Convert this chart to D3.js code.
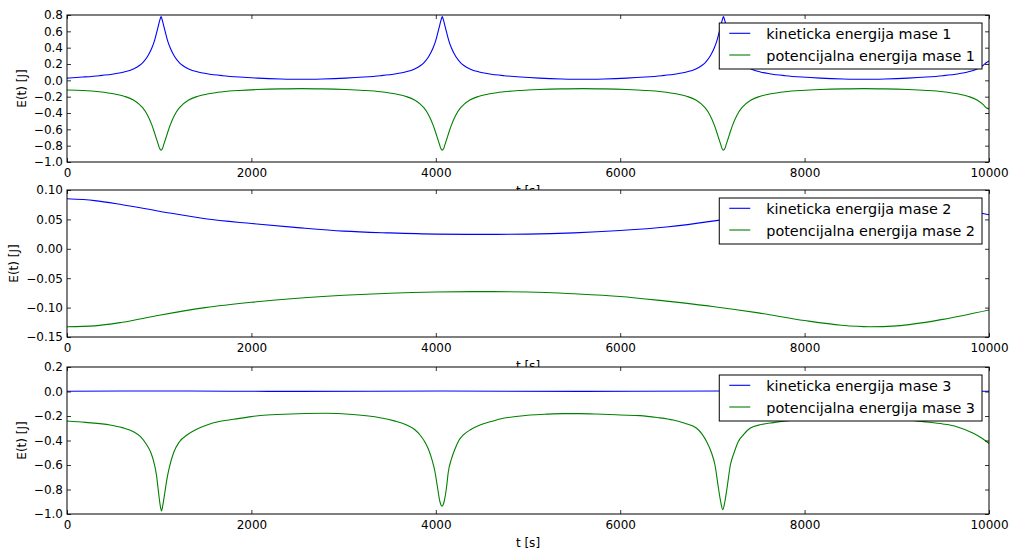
<!DOCTYPE html>
<html>
<head>
<meta charset="utf-8">
<script src="https://cdn.jsdelivr.net/npm/d3@7"></script>
<style>
  body { margin: 0; background: #fff; }
  svg text { font-family: "DejaVu Sans", sans-serif; }
</style>
</head>
<body>
<div id="chart"></div>
<script>
// ---- data ----
const xTicks = [0, 2000, 4000, 6000, 8000, 10000];
const yTicks1 = [-1.0, -0.8, -0.6, -0.4, -0.2, 0.0, 0.2, 0.4, 0.6, 0.8];
const yTicks2 = [-0.15, -0.10, -0.05, 0.00, 0.05, 0.10];
const yTicks3 = [-1.0, -0.8, -0.6, -0.4, -0.2, 0.0, 0.2];

const labels1 = ["kineticka energija mase 1", "potencijalna energija mase 1"];
const labels2 = ["kineticka energija mase 2", "potencijalna energija mase 2"];
const labels3 = ["kineticka energija mase 3", "potencijalna energija mase 3"];

// mass 1
const tMasa1 = [
  0, 170, 350, 520, 620, 720, 785, 820, 875, 920, 950, 970, 990, 1005, 1020,
  1035, 1050, 1070, 1090, 1120, 1165, 1220, 1255, 1320, 1420, 1520, 1690, 1870, 2070, 2320, 2545,
  2770, 3020, 3220, 3400, 3570, 3670, 3770, 3835, 3870, 3925, 3970, 4000, 4020, 4040, 4055, 4070,
  4085, 4100, 4120, 4140, 4170, 4215, 4270, 4305, 4370, 4470, 4570, 4740, 4920, 5120, 5370, 5595,
  5820, 6070, 6270, 6450, 6620, 6720, 6820, 6885, 6920, 6975, 7020, 7050, 7070, 7090, 7105, 7120,
  7135, 7150, 7170, 7190, 7220, 7265, 7320, 7355, 7420, 7520, 7620, 7790, 7970, 8170, 8420, 8645,
  8870, 9120, 9320, 9500, 9670, 9770, 9870, 9935, 9970, 10000
];
const kinMasa1 = [
  0.027, 0.04, 0.057, 0.081, 0.103, 0.14, 0.182, 0.215, 0.295, 0.395, 0.49, 0.575, 0.665, 0.73, 0.78,
  0.73, 0.665, 0.575, 0.49, 0.395, 0.295, 0.215, 0.182, 0.14, 0.103, 0.081, 0.057, 0.04, 0.027, 0.017, 0.013,
  0.017, 0.027, 0.04, 0.057, 0.081, 0.103, 0.14, 0.182, 0.215, 0.295, 0.395, 0.49, 0.575, 0.665, 0.73, 0.78,
  0.73, 0.665, 0.575, 0.49, 0.395, 0.295, 0.215, 0.182, 0.14, 0.103, 0.081, 0.057, 0.04, 0.027, 0.017, 0.013,
  0.017, 0.027, 0.04, 0.057, 0.081, 0.103, 0.14, 0.182, 0.215, 0.295, 0.395, 0.49, 0.575, 0.665, 0.73, 0.78,
  0.73, 0.665, 0.575, 0.49, 0.395, 0.295, 0.215, 0.182, 0.14, 0.103, 0.081, 0.057, 0.04, 0.027, 0.017, 0.013,
  0.017, 0.027, 0.04, 0.057, 0.081, 0.103, 0.14, 0.182, 0.215, 0.237
];
const potMasa1 = [
  -0.118, -0.124, -0.14, -0.168, -0.195, -0.24, -0.295, -0.335, -0.43, -0.545, -0.645, -0.715, -0.785, -0.835, -0.855,
  -0.835, -0.785, -0.715, -0.645, -0.545, -0.43, -0.335, -0.295, -0.24, -0.195, -0.168, -0.14, -0.124, -0.113, -0.105, -0.102,
  -0.105, -0.113, -0.124, -0.14, -0.168, -0.195, -0.24, -0.295, -0.335, -0.43, -0.545, -0.645, -0.715, -0.785, -0.835, -0.855,
  -0.835, -0.785, -0.715, -0.645, -0.545, -0.43, -0.335, -0.295, -0.24, -0.195, -0.168, -0.14, -0.124, -0.113, -0.105, -0.102,
  -0.105, -0.113, -0.124, -0.14, -0.168, -0.195, -0.24, -0.295, -0.335, -0.43, -0.545, -0.645, -0.715, -0.785, -0.835, -0.855,
  -0.835, -0.785, -0.715, -0.645, -0.545, -0.43, -0.335, -0.295, -0.24, -0.195, -0.168, -0.14, -0.124, -0.113, -0.105, -0.102,
  -0.105, -0.113, -0.124, -0.14, -0.168, -0.195, -0.24, -0.295, -0.335, -0.35
];

// mass 2
const tMasa2 = [0, 300, 600, 1000, 1500, 2000, 2500, 3000, 3500, 4000, 4500, 5000, 5500, 6000, 6500, 7000, 7500, 8000, 8400, 8700, 9000, 9500, 10000];
const kinMasa2 = [0.085, 0.082, 0.075, 0.064, 0.051, 0.043, 0.036, 0.030, 0.027, 0.025, 0.0245, 0.025, 0.027, 0.031, 0.037, 0.047, 0.060, 0.073, 0.082, 0.085, 0.083, 0.072, 0.058];
const potMasa2 = [-0.1325, -0.131, -0.125, -0.113, -0.100, -0.091, -0.084, -0.079, -0.0755, -0.0735, -0.0728, -0.0735, -0.0765, -0.081, -0.089, -0.098, -0.109, -0.122, -0.130, -0.1325, -0.131, -0.120, -0.104];

// mass 3
const tKin3 = [0, 1025, 2500, 4067, 5600, 7112, 8600, 10000];
const kinMasa3 = [0.002, 0.004, 0.001, 0.004, 0.001, 0.004, 0.001, 0.002];
const tPot3 = [
  0, 200, 467, 600, 721, 800, 866, 910, 938, 970, 993, 1010, 1025, 1040, 1060, 1083, 1110, 1156, 1220, 1301,
  1400, 1518, 1650, 1808, 2000, 2170, 2500, 2800, 3100, 3395, 3550, 3684, 3770, 3829, 3880, 3919, 3960, 3991,
  4020, 4045, 4067, 4090, 4115, 4136, 4170, 4208, 4250, 4299, 4380, 4479, 4600, 4732, 4870, 5022, 5200, 5383,
  5560, 5745, 6000, 6215, 6400, 6576, 6700, 6829, 6890, 6938, 6990, 7028, 7060, 7090, 7112, 7135, 7160, 7195,
  7235, 7280, 7340, 7408, 7530, 7661, 7800, 8000, 8400, 8800, 9100, 9288, 9500, 9650, 9830, 9920, 10000
];
const potMasa3 = [
  -0.241, -0.252, -0.273, -0.295, -0.328, -0.37, -0.437, -0.50, -0.565, -0.68, -0.825, -0.925, -0.975, -0.925, -0.83, -0.72, -0.62, -0.50, -0.41, -0.355,
  -0.31, -0.273, -0.245, -0.227, -0.205, -0.192, -0.182, -0.178, -0.188, -0.214, -0.24, -0.273, -0.31, -0.355, -0.41, -0.47, -0.56, -0.655,
  -0.79, -0.90, -0.935, -0.90, -0.79, -0.655, -0.55, -0.47, -0.40, -0.355, -0.31, -0.273, -0.245, -0.219, -0.204, -0.192, -0.185, -0.181,
  -0.181, -0.184, -0.192, -0.197, -0.212, -0.233, -0.26, -0.30, -0.35, -0.41, -0.50, -0.60, -0.76, -0.90, -0.965, -0.90, -0.78, -0.60,
  -0.50, -0.41, -0.35, -0.30, -0.27, -0.254, -0.24, -0.225, -0.21, -0.215, -0.23, -0.246, -0.265, -0.287, -0.341, -0.38, -0.425
];

// ---- layout ----
const width = 1014;
const height = 553;
const plotLeft = 67;
const plotRight = 989;
const plotHeight = 147;
const plotTops = [15, 190, 367];
const blue = "#0000ff";
const green = "#008000";

const svg = d3.select("#chart")
  .append("svg")
  .attr("width", width)
  .attr("height", height);

svg.append("rect").attr("width", width).attr("height", height).attr("fill", "white");

const xScale = d3.scaleLinear().domain([0, 10000]).range([plotLeft, plotRight]);

const panels = [
  { yTicks: yTicks1, fmt: ".1f", labels: labels1,
    series: [[tMasa1, kinMasa1, blue], [tMasa1, potMasa1, green]] },
  { yTicks: yTicks2, fmt: ".2f", labels: labels2,
    series: [[tMasa2, kinMasa2, blue], [tMasa2, potMasa2, green]] },
  { yTicks: yTicks3, fmt: ".1f", labels: labels3,
    series: [[tKin3, kinMasa3, blue], [tPot3, potMasa3, green]] }
];

function styleAxis(sel) {
  sel.select(".domain").remove();
  sel.attr("font-family", "DejaVu Sans").attr("font-size", 12).attr("color", "black");
  sel.selectAll(".tick line").attr("stroke-width", 0.8);
}

panels.forEach((panel, i) => {
  const top = plotTops[i];
  const bottom = top + plotHeight;
  const g = svg.append("g");

  const yScale = d3.scaleLinear()
    .domain(d3.extent(panel.yTicks))
    .range([bottom, top]);

  // axes background covers the previous panel's x label, like matplotlib
  g.append("rect")
    .attr("x", plotLeft).attr("y", top)
    .attr("width", plotRight - plotLeft).attr("height", plotHeight)
    .attr("fill", "white");

  g.append("clipPath").attr("id", "clip" + i)
    .append("rect")
    .attr("x", plotLeft).attr("y", top)
    .attr("width", plotRight - plotLeft).attr("height", plotHeight);

  const line = d3.line()
    .x(d => xScale(d[0]))
    .y(d => yScale(d[1]))
    .curve(d3.curveMonotoneX);

  panel.series.forEach(([t, v, color]) => {
    g.append("path")
      .datum(d3.zip(t, v))
      .attr("d", line)
      .attr("fill", "none")
      .attr("stroke", color)
      .attr("stroke-width", 1.1)
      .attr("clip-path", `url(#clip${i})`);
  });

  // ticks on all four sides, pointing inward
  g.append("g")
    .attr("transform", `translate(0,${bottom})`)
    .call(d3.axisBottom(xScale).tickValues(xTicks).tickSize(-4).tickPadding(6).tickFormat(d3.format("d")))
    .call(styleAxis);

  g.append("g")
    .attr("transform", `translate(0,${top})`)
    .call(d3.axisTop(xScale).tickValues(xTicks).tickSize(-4).tickFormat(""))
    .call(styleAxis);

  const yAxisG = g.append("g")
    .attr("transform", `translate(${plotLeft},0)`)
    .call(d3.axisLeft(yScale).tickValues(panel.yTicks).tickSize(-4).tickPadding(4).tickFormat(d3.format(panel.fmt)))
    .call(styleAxis);

  g.append("g")
    .attr("transform", `translate(${plotRight},0)`)
    .call(d3.axisRight(yScale).tickValues(panel.yTicks).tickSize(-4).tickFormat(""))
    .call(styleAxis);

  g.append("rect")
    .attr("x", plotLeft).attr("y", top)
    .attr("width", plotRight - plotLeft).attr("height", plotHeight)
    .attr("fill", "none")
    .attr("stroke", "black")
    .attr("stroke-width", 1);

  // axis labels
  const tickBox = yAxisG.node().getBBox();
  g.append("text")
    .attr("transform", `translate(${plotLeft + tickBox.x - 12},${(top + bottom) / 2}) rotate(-90)`)
    .attr("text-anchor", "middle")
    .attr("dy", "0.35em")
    .attr("font-size", 12)
    .text("E(t) [J]");

  g.append("text")
    .attr("x", (plotLeft + plotRight) / 2)
    .attr("y", bottom + 33)
    .attr("text-anchor", "middle")
    .attr("font-size", 12)
    .text("t [s]");

  // legend
  const legend = g.append("g");
  const legendTop = top + 8;
  const box = legend.append("rect")
    .attr("fill", "white")
    .attr("stroke", "black")
    .attr("stroke-width", 1);

  const texts = legend.selectAll("text")
    .data(panel.labels)
    .join("text")
    .attr("y", (d, j) => legendTop + 16.3 + j * 21.7)
    .attr("font-size", 14.4)
    .text(d => d);

  const maxW = d3.max(texts.nodes(), n => n.getComputedTextLength());
  const boxRight = plotRight - 7;
  const boxLeft = boxRight - 7 - maxW - 47;
  texts.attr("x", boxLeft + 47);

  box.attr("x", boxLeft).attr("y", legendTop)
    .attr("width", boxRight - boxLeft).attr("height", 46);

  legend.selectAll("line")
    .data(panel.series)
    .join("line")
    .attr("x1", boxLeft + 10)
    .attr("x2", boxLeft + 31)
    .attr("y1", (d, j) => legendTop + 10.3 + j * 21.7)
    .attr("y2", (d, j) => legendTop + 10.3 + j * 21.7)
    .attr("stroke", d => d[2])
    .attr("stroke-width", 1.1);
});
</script>
</body>
</html>
